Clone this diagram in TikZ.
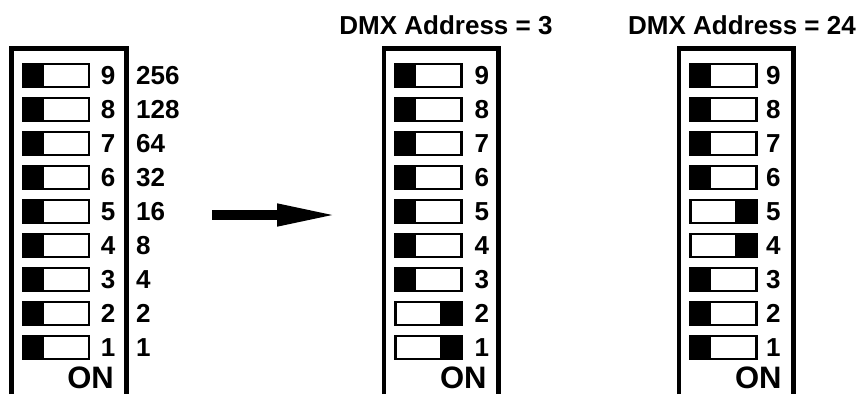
\documentclass[tikz,border=0pt]{standalone}
\usepackage{fontspec}
\setmainfont{Liberation Sans}
\usetikzlibrary{arrows.meta}
\begin{document}
\begin{tikzpicture}[x=1pt,y=-1pt,
    sw/.style={draw, line width=2.5pt, minimum width=66pt, minimum height=23pt, inner sep=0pt},
    swoff/.style={sw, path picture={\fill (path picture bounding box.south west) rectangle ([xshift=21pt]path picture bounding box.north west);}},
    swon/.style={sw, path picture={\fill ([xshift=-21pt]path picture bounding box.south east) rectangle (path picture bounding box.north east);}},
    num/.style={anchor=west, inner sep=0pt, font=\fontsize{26}{30}\selectfont\bfseries},
    onlabel/.style={anchor=base, inner sep=0pt, font=\fontsize{31}{33}\selectfont\bfseries},
    title/.style={anchor=base, inner sep=0pt, font=\fontsize{26}{30}\selectfont\bfseries},
    frame/.style={line width=4.5pt, line join=miter},
    bigarrow/.style={line width=10pt, -{Triangle[length=63pt,width=20pt]}}]
      \useasboundingbox (0,0) rectangle (861,394);
      % frames
      \draw[frame] (11.5,394) -- (11.5,48.3) -- (126.5,48.3) -- (126.5,394);
      \draw[frame] (384,394) -- (384,48.3) -- (498.5,48.3) -- (498.5,394);
      \draw[frame] (679,394) -- (679,48.3) -- (793.5,48.3) -- (793.5,394);
      % titles
      \node[title] (t3) at (446,34) {DMX Address = 3};
      \node[title] (t24) at (742,34) {DMX Address = 24};
      % left block
      \path
        (55.75,75.3) node[swoff] (l9){}
        (55.75,109.3) node[swoff] (l8){}
        (55.75,143.3) node[swoff] (l7){}
        (55.75,177.3) node[swoff] (l6){}
        (55.75,211.3) node[swoff] (l5){}
        (55.75,245.3) node[swoff] (l4){}
        (55.75,279.3) node[swoff] (l3){}
        (55.75,313.3) node[swoff] (l2){}
        (55.75,347.3) node[swoff] (l1){};
      \path
        (100.7,75.3) node[num] (ln9){9}
        (100.7,109.3) node[num] (ln8){8}
        (100.7,143.3) node[num] (ln7){7}
        (100.7,177.3) node[num] (ln6){6}
        (100.7,211.3) node[num] (ln5){5}
        (100.7,245.3) node[num] (ln4){4}
        (100.7,279.3) node[num] (ln3){3}
        (100.7,313.3) node[num] (ln2){2}
        (100.7,347.3) node[num] (ln1){1};
      \path
        (136,75.3) node[num] (v9){256}
        (136,109.3) node[num] (v8){128}
        (136,143.3) node[num] (v7){64}
        (136,177.3) node[num] (v6){32}
        (136,211.3) node[num] (v5){16}
        (136,245.3) node[num] (v4){8}
        (136,279.3) node[num] (v3){4}
        (136,313.3) node[num] (v2){2}
        (136,347.3) node[num] (v1){1};
      \node[onlabel] (lon) at (90.5,388) {ON};
      % middle block
      \path
        (428.25,75.3) node[swoff] (m9){}
        (428.25,109.3) node[swoff] (m8){}
        (428.25,143.3) node[swoff] (m7){}
        (428.25,177.3) node[swoff] (m6){}
        (428.25,211.3) node[swoff] (m5){}
        (428.25,245.3) node[swoff] (m4){}
        (428.25,279.3) node[swoff] (m3){}
        (428.25,313.3) node[swon] (m2){}
        (428.25,347.3) node[swon] (m1){};
      \path
        (474.5,75.3) node[num] (mn9){9}
        (474.5,109.3) node[num] (mn8){8}
        (474.5,143.3) node[num] (mn7){7}
        (474.5,177.3) node[num] (mn6){6}
        (474.5,211.3) node[num] (mn5){5}
        (474.5,245.3) node[num] (mn4){4}
        (474.5,279.3) node[num] (mn3){3}
        (474.5,313.3) node[num] (mn2){2}
        (474.5,347.3) node[num] (mn1){1};
      \node[onlabel] (mon) at (463.3,388) {ON};
      % right block
      \path
        (723.25,75.3) node[swoff] (r9){}
        (723.25,109.3) node[swoff] (r8){}
        (723.25,143.3) node[swoff] (r7){}
        (723.25,177.3) node[swoff] (r6){}
        (723.25,211.3) node[swon] (r5){}
        (723.25,245.3) node[swon] (r4){}
        (723.25,279.3) node[swoff] (r3){}
        (723.25,313.3) node[swoff] (r2){}
        (723.25,347.3) node[swoff] (r1){};
      \path
        (766,75.3) node[num] (rn9){9}
        (766,109.3) node[num] (rn8){8}
        (766,143.3) node[num] (rn7){7}
        (766,177.3) node[num] (rn6){6}
        (766,211.3) node[num] (rn5){5}
        (766,245.3) node[num] (rn4){4}
        (766,279.3) node[num] (rn3){3}
        (766,313.3) node[num] (rn2){2}
        (766,347.3) node[num] (rn1){1};
      \node[onlabel] (ron) at (758.3,388) {ON};
      % arrow
      \coordinate (arrS) at (212,215);
      \coordinate (arrE) at (340,215);
      \draw[bigarrow] (arrS) -- (arrE);
    \end{tikzpicture}
\end{document}
